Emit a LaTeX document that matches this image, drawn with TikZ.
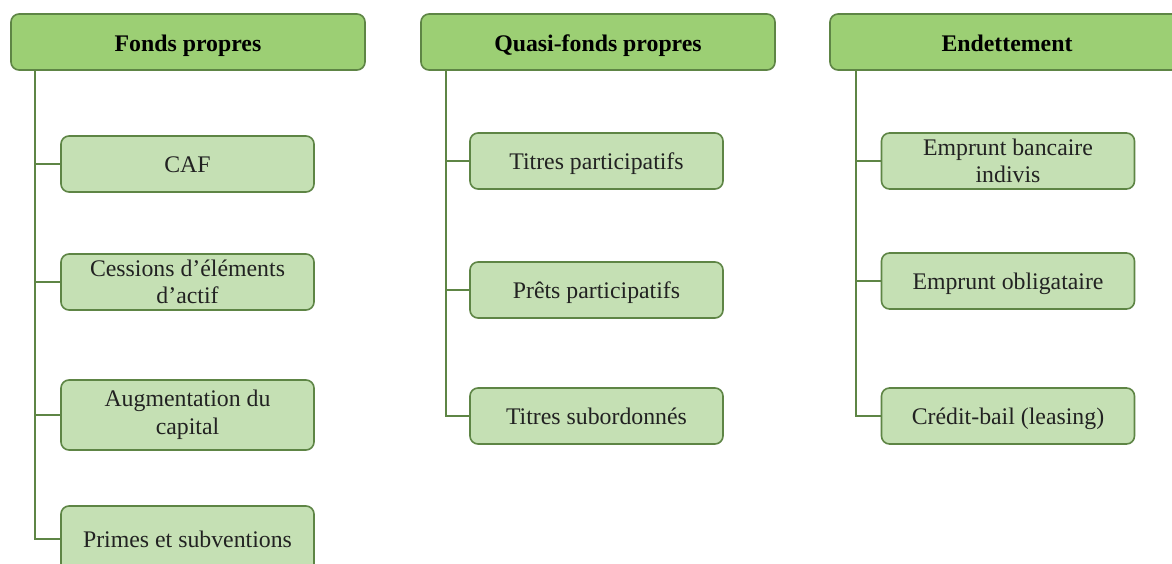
\documentclass[tikz,border=0pt]{standalone}
\usepackage{fontspec}
\setmainfont{Liberation Serif}
\definecolor{hdrfill}{HTML}{9CCF74}
\definecolor{chfill}{HTML}{C5E0B4}
\definecolor{edge}{HTML}{5E8545}
\definecolor{txt}{HTML}{222222}
\begin{document}
\begin{tikzpicture}[x=1pt,y=-1pt,
  hdr/.style={draw=edge, line width=1.6pt, fill=hdrfill, rounded corners=8pt,
    minimum width=354pt, minimum height=56pt, inner sep=0pt,
    text height=21pt, text depth=2pt,
    font=\fontsize{23.8}{27.5}\selectfont\bfseries},
  child/.style={draw=edge, line width=1.6pt, fill=chfill, rounded corners=8pt,
    minimum width=253pt, minimum height=56pt, inner sep=0pt, align=center,
    text=txt, font=\fontsize{23.8}{27.5}\selectfont},
  oneline/.style={text height=20pt, text depth=3pt},
  link/.style={draw=edge, line width=1.6pt}]
\clip (0,0) rectangle (1172,563);
\fill[white] (0,0) rectangle (1172,563);
% headers
\node[hdr] (h1) at (188,42) {Fonds propres};
\node[hdr] (h2) at (598,42) {Quasi-fonds propres};
\node[hdr] (h3) at (1007,42) {Endettement};
\coordinate (t1) at ([xshift=25pt]h1.south west);
\coordinate (t2) at ([xshift=26pt]h2.south west);
\coordinate (t3) at ([xshift=27pt]h3.south west);
% Fonds propres
\node[child, oneline] (a1) at (187.5,164) {CAF};
\node[child] (a2) at (187.5,282) {Cessions d’éléments\\d’actif};
\node[child, minimum height=70pt] (a3) at (187.5,415) {Augmentation du\\capital};
\node[child, oneline, minimum height=66pt] (a4) at (187.5,539) {Primes et subventions};
% Quasi-fonds propres
\node[child, oneline] (b1) at (596.5,161) {Titres participatifs};
\node[child, oneline] (b2) at (596.5,290) {Prêts participatifs};
\node[child, oneline] (b3) at (596.5,416) {Titres subordonnés};
% Endettement
\node[child] (e1) at (1008,161) {Emprunt bancaire\\indivis};
\node[child, oneline] (e2) at (1008,281) {Emprunt obligataire};
\node[child, oneline] (e3) at (1008,416) {Crédit-bail (leasing)};
% connectors
\draw[link] (t1) |- (a1.west);
\draw[link] (t1) |- (a2.west);
\draw[link] (t1) |- (a3.west);
\draw[link] (t1) |- (a4.west);
\draw[link] (t2) |- (b1.west);
\draw[link] (t2) |- (b2.west);
\draw[link] (t2) |- (b3.west);
\draw[link] (t3) |- (e1.west);
\draw[link] (t3) |- (e2.west);
\draw[link] (t3) |- (e3.west);
\end{tikzpicture}
\end{document}
